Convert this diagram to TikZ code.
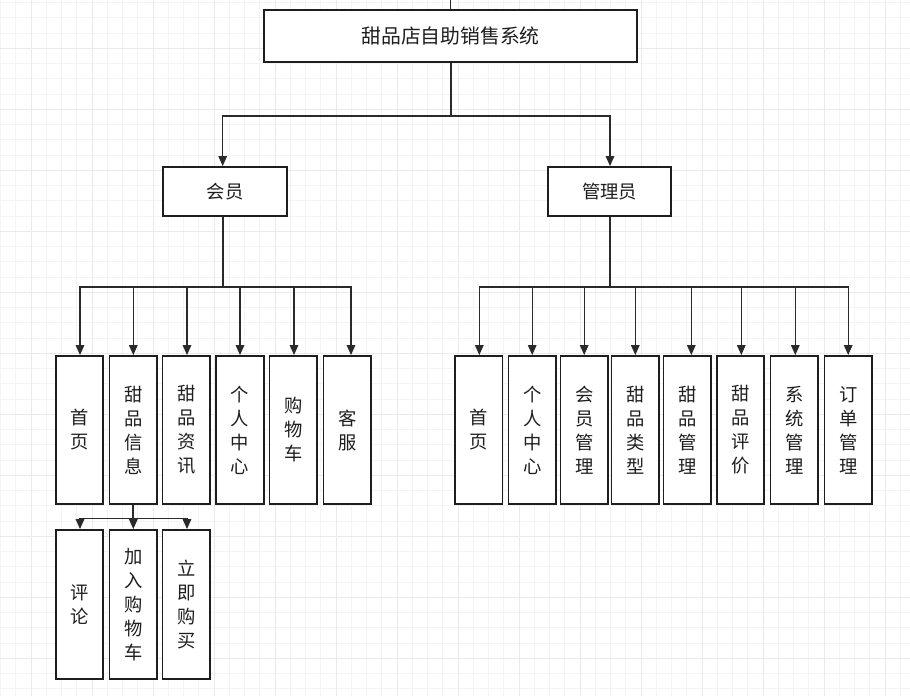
\documentclass[tikz,border=0pt]{standalone}
\usepackage{fontspec}
\setmainfont{Noto Sans CJK SC}
\usetikzlibrary{arrows.meta,calc}
\definecolor{gridminor}{HTML}{F4F4F4}
\definecolor{gridmajor}{HTML}{EAEAEA}
\definecolor{ink}{HTML}{1E1E1E}
\definecolor{wirec}{HTML}{2A2A2A}
\begin{document}
\begin{tikzpicture}[x=1pt,y=-1pt,
  box/.style={draw=ink, line width=1.8pt, fill=white, inner sep=0pt, align=center, text=ink, font=\fontsize{18.3}{24}\selectfont},
  leaf/.style={box, minimum width=47.5pt, minimum height=148pt},
  wire/.style={draw=wirec, line width=1.4pt},
  stem/.style={draw=wirec, line width=2pt},
  arr/.style={wire, -{Triangle[length=10pt,width=8.5pt]}}]
\useasboundingbox (0,0) rectangle (910,696);
\fill[white] (0,0) rectangle (910,696);
% grid
\foreach \i in {-2,...,57} {
  \pgfmathsetmacro\gx{31+15.25*\i}
  \draw[gridminor, line width=1pt] (\gx,0) -- (\gx,696);
}
\foreach \j in {-3,...,42} {
  \pgfmathsetmacro\gy{48.3+15.25*\j}
  \draw[gridminor, line width=1pt] (0,\gy) -- (910,\gy);
}
\foreach \k in {0,...,14} {
  \pgfmathsetmacro\gx{31+61*\k}
  \draw[gridmajor, line width=1pt] (\gx,0) -- (\gx,696);
}
\foreach \k in {0,...,10} {
  \pgfmathsetmacro\gy{48.3+61*\k}
  \draw[gridmajor, line width=1pt] (0,\gy) -- (910,\gy);
}

% nodes
\node[box, minimum width=373pt, minimum height=52pt, font=\fontsize{19.8}{24}\selectfont] (root) at (450.5,36) {甜品店自助销售系统};
\node[box, minimum width=124pt, minimum height=49pt] (mem) at (225,191.5) {会员};
\node[box, minimum width=123pt, minimum height=49pt] (adm) at (609.5,191.5) {管理员};

\node[leaf] (m1) at (79.5,430) {首\\页};
\node[leaf] (m2) at (133.3,430) {甜\\品\\信\\息};
\node[leaf] (m3) at (186.3,430) {甜\\品\\资\\讯};
\node[leaf] (m4) at (240,430) {个\\人\\中\\心};
\node[leaf] (m5) at (293.3,430) {购\\物\\车};
\node[leaf] (m6) at (347.2,430) {客\\服};

\node[leaf, minimum height=149pt] (s1) at (79.5,604.5) {评\\论};
\node[leaf, minimum height=149pt] (s2) at (133.3,604.5) {加\\入\\购\\物\\车};
\node[leaf, minimum height=149pt] (s3) at (186.3,604.5) {立\\即\\购\\买};

\node[leaf] (a1) at (478.7,430) {首\\页};
\node[leaf] (a2) at (532.2,430) {个\\人\\中\\心};
\node[leaf] (a3) at (584.2,430) {会\\员\\管\\理};
\node[leaf] (a4) at (635.3,430) {甜\\品\\类\\型};
\node[leaf] (a5) at (687.2,430) {甜\\品\\管\\理};
\node[leaf] (a6) at (740.5,430) {甜\\品\\评\\价};
\node[leaf] (a7) at (794.2,430) {系\\统\\管\\理};
\node[leaf] (a8) at (848.2,430) {订\\单\\管\\理};

% connectors
\coordinate (topend) at (450.5,0);
\draw[wire] (topend) -- (root.north);

\coordinate (j0) at ($(root.south)+(0,53)$);
\draw[stem] (root.south) -- (j0);
\draw[arr] (j0) -| ([xshift=-2.3pt]mem.north);
\draw[arr] (j0) -| ([xshift=0.5pt]adm.north);

\coordinate (j1) at ($(mem.south)+(-2.3,70)$);
\draw[stem] ([xshift=-2.3pt]mem.south) -- (j1);
\draw[arr] (j1) -| ([xshift=0.5pt]m1.north);
\draw[arr] (j1) -| (m2.north);
\draw[arr] (j1) -| ([xshift=0.7pt]m3.north);
\draw[arr] (j1) -| (m4.north);
\draw[arr] (j1) -| ([xshift=0.7pt]m5.north);
\draw[arr] (j1) -| ([xshift=3.8pt]m6.north);

\coordinate (j2) at ($(m2.south)+(0,13.3)$);
\draw[stem] (m2.south) -- (j2);
\draw[arr] (j2) -| ([xshift=0.5pt]s1.north);
\draw[arr] (j2) -| (s2.north);
\draw[arr] (j2) -| ([xshift=0.7pt]s3.north);

\coordinate (j3) at ($(adm.south)+(0.5,70)$);
\draw[stem] ([xshift=0.5pt]adm.south) -- (j3);
\draw[arr] (j3) -| ([xshift=0.6pt]a1.north);
\draw[arr] (j3) -| (a2.north);
\draw[arr] (j3) -| (a3.north);
\draw[arr] (j3) -| (a4.north);
\draw[arr] (j3) -| ([xshift=4.1pt]a5.north);
\draw[arr] (j3) -| ([xshift=0.8pt]a6.north);
\draw[arr] (j3) -| ([xshift=1.1pt]a7.north);
\draw[arr] (j3) -| (a8.north);
\end{tikzpicture}
\end{document}
